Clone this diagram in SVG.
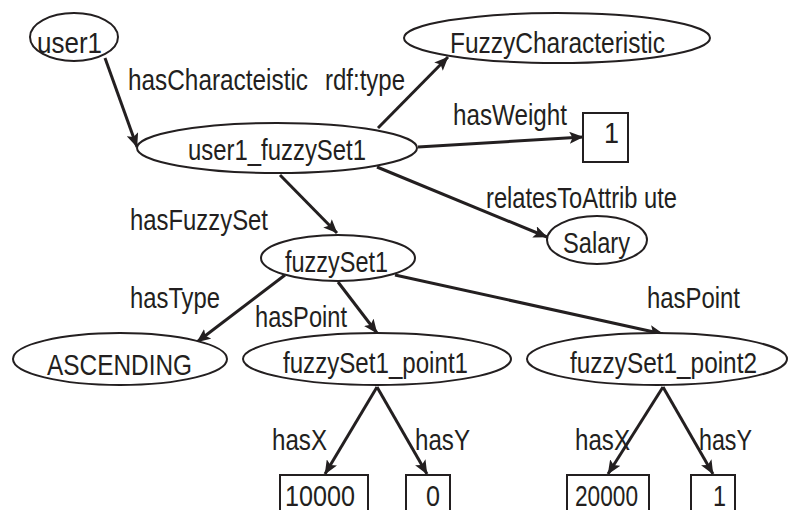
<svg xmlns="http://www.w3.org/2000/svg" width="789" height="510" viewBox="0 0 789 510">
<defs>
<style>
.n{fill:#ffffff;stroke:#231f20;stroke-width:2}
.t{font-family:"Liberation Sans",Arial,sans-serif;font-size:30px;fill:#231f20}
.c{fill:none;stroke:#231f20;stroke-width:3;marker-end:url(#ah)}
</style>
<marker id="ah" markerUnits="userSpaceOnUse" viewBox="0 0 14 12" markerWidth="14" markerHeight="12" refX="13.5" refY="6" orient="auto">
<path d="M0,0 L14,6 L0,12 L3,6 z" fill="#231f20"/>
</marker>
</defs>
<rect width="789" height="510" fill="#ffffff"/>
<g id="connectors">
<line class="c" x1="105" y1="58" x2="137" y2="147"/>
<line class="c" x1="378" y1="128" x2="448" y2="57"/>
<line class="c" x1="418" y1="147" x2="583" y2="137"/>
<line class="c" x1="377" y1="167" x2="547" y2="237"/>
<line class="c" x1="280" y1="175" x2="337" y2="233"/>
<line class="c" x1="285" y1="275" x2="197" y2="342"/>
<line class="c" x1="338" y1="282" x2="377" y2="333"/>
<line class="c" x1="395" y1="275" x2="663" y2="334"/>
<line class="c" x1="377" y1="387" x2="325" y2="474"/>
<line class="c" x1="377" y1="387" x2="427" y2="474"/>
<line class="c" x1="663" y1="387" x2="608" y2="474"/>
<line class="c" x1="663" y1="387" x2="713" y2="474"/>
</g>
<g id="labels">
<text class="t" x="128" y="90" textLength="180" lengthAdjust="spacingAndGlyphs">hasCharacteistic</text>
<text class="t" x="325" y="90" textLength="80" lengthAdjust="spacingAndGlyphs">rdf:type</text>
<text class="t" x="453" y="125" textLength="114" lengthAdjust="spacingAndGlyphs">hasWeight</text>
<text class="t" x="486" y="208" textLength="191" lengthAdjust="spacingAndGlyphs">relatesToAttrib ute</text>
<text class="t" x="130" y="230" textLength="138" lengthAdjust="spacingAndGlyphs">hasFuzzySet</text>
<text class="t" x="130" y="308" textLength="90" lengthAdjust="spacingAndGlyphs">hasType</text>
<text class="t" x="255" y="327" textLength="92" lengthAdjust="spacingAndGlyphs">hasPoint</text>
<text class="t" x="647" y="308" textLength="93" lengthAdjust="spacingAndGlyphs">hasPoint</text>
<text class="t" x="272" y="450" textLength="55" lengthAdjust="spacingAndGlyphs">hasX</text>
<text class="t" x="415" y="450" textLength="55" lengthAdjust="spacingAndGlyphs">hasY</text>
<text class="t" x="575" y="450" textLength="55" lengthAdjust="spacingAndGlyphs">hasX</text>
<text class="t" x="699" y="450" textLength="53" lengthAdjust="spacingAndGlyphs">hasY</text>
</g>
<g id="user1">
<ellipse class="n" cx="74" cy="37" rx="44" ry="24"/>
<text class="t" x="37" y="53" textLength="65" lengthAdjust="spacingAndGlyphs">user1</text>
</g>
<g id="FuzzyCharacteristic">
<ellipse class="n" cx="557" cy="38" rx="153" ry="25"/>
<text class="t" x="450" y="53" textLength="215" lengthAdjust="spacingAndGlyphs">FuzzyCharacteristic</text>
</g>
<g id="user1_fuzzySet1">
<ellipse class="n" cx="277" cy="148" rx="140" ry="25"/>
<text class="t" x="188" y="160" textLength="178" lengthAdjust="spacingAndGlyphs">user1_fuzzySet1</text>
</g>
<g id="weight">
<rect class="n" x="583" y="113" width="45" height="49"/>
<text class="t" x="604" y="143" textLength="15" lengthAdjust="spacingAndGlyphs">1</text>
</g>
<g id="Salary">
<ellipse class="n" cx="597" cy="240" rx="50" ry="24"/>
<text class="t" x="563" y="253" textLength="67" lengthAdjust="spacingAndGlyphs">Salary</text>
</g>
<g id="fuzzySet1">
<ellipse class="n" cx="338" cy="258" rx="77" ry="23"/>
<text class="t" x="285" y="272" textLength="103" lengthAdjust="spacingAndGlyphs">fuzzySet1</text>
</g>
<g id="ASCENDING">
<ellipse class="n" cx="120" cy="359" rx="107" ry="26"/>
<text class="t" x="47" y="375" textLength="145" lengthAdjust="spacingAndGlyphs">ASCENDING</text>
</g>
<g id="fuzzySet1_point1">
<ellipse class="n" cx="377" cy="359" rx="134" ry="26"/>
<text class="t" x="283" y="373" textLength="185" lengthAdjust="spacingAndGlyphs">fuzzySet1_point1</text>
</g>
<g id="fuzzySet1_point2">
<ellipse class="n" cx="657" cy="359" rx="130" ry="26"/>
<text class="t" x="570" y="373" textLength="187" lengthAdjust="spacingAndGlyphs">fuzzySet1_point2</text>
</g>
<g id="x1">
<rect class="n" x="280" y="475" width="88" height="50"/>
<text class="t" x="285" y="506" textLength="70" lengthAdjust="spacingAndGlyphs">10000</text>
</g>
<g id="y1">
<rect class="n" x="406" y="475" width="44" height="50"/>
<text class="t" x="426" y="506" textLength="14" lengthAdjust="spacingAndGlyphs">0</text>
</g>
<g id="x2">
<rect class="n" x="567" y="475" width="82" height="50"/>
<text class="t" x="575" y="506" textLength="63" lengthAdjust="spacingAndGlyphs">20000</text>
</g>
<g id="y2">
<rect class="n" x="691" y="475" width="44" height="50"/>
<text class="t" x="713" y="506" textLength="13" lengthAdjust="spacingAndGlyphs">1</text>
</g>
</svg>
